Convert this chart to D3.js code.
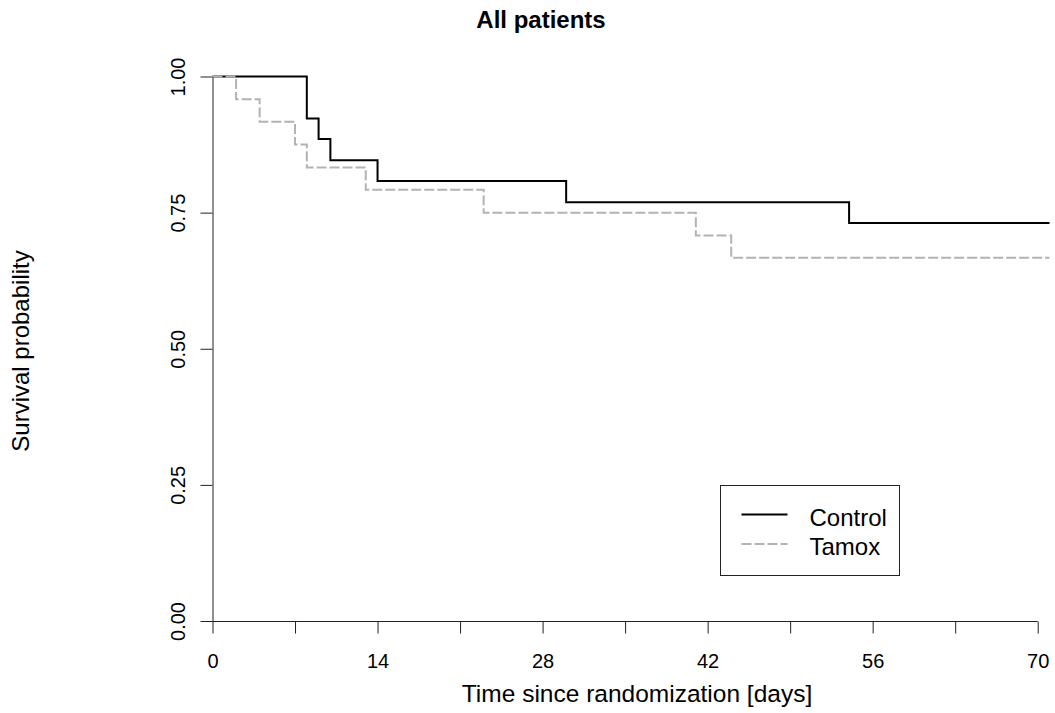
<!DOCTYPE html>
<html>
<head>
<meta charset="utf-8">
<script src="https://cdn.jsdelivr.net/npm/d3@7"></script>
<style>
  body { margin: 0; background: #fff; }
  svg { display: block; font-family: "Liberation Sans", Arial, sans-serif; }
</style>
</head>
<body>
<div class="chart"></div>
<script>
// Kaplan-Meier steps
const controlTimes = [0, 8, 9, 10, 14, 30, 54]
const controlSurv = [1, 0.923, 0.885, 0.846, 0.808, 0.769, 0.731]
const tamoxTimes = [0, 2, 4, 7, 8, 13, 23, 41, 44]
const tamoxSurv = [1, 0.958, 0.917, 0.875, 0.833, 0.792, 0.75, 0.708, 0.667]
const lastTime = 71

const xTicks = [0, 7, 14, 21, 28, 35, 42, 49, 56, 63, 70]
const yTicks = [0, 0.25, 0.5, 0.75, 1]
const groups = ['Control', 'Tamox']

const width = 1055
const height = 713

const svg = d3.select('.chart')
    .append('svg')
    .attr('width', width)
    .attr('height', height)

const xScale = d3.scaleLinear().domain([0, lastTime]).range([212.5, 1049.5])
const yScale = d3.scaleLinear().domain([0, 1]).range([621, 76.5])

// x axis - only every second tick labelled
const xAxis = d3.axisBottom(xScale)
    .tickValues(xTicks)
    .tickSize(12)
    .tickSizeOuter(0)
    .tickFormat(d => d % 14 === 0 ? d : '')

const gx = svg.append('g')
    .attr('transform', 'translate(0,621.5)')
    .call(xAxis)
gx.select('.domain').attr('d', `M${xScale(0)},0H${xScale(70)}`)
gx.selectAll('line, path').attr('stroke', '#222')
gx.selectAll('text')
    .attr('y', 0)
    .attr('dy', 0)
    .attr('transform', 'translate(0,46)')
    .attr('fill', '#000')
    .style('font-size', '20px')

// y axis
const yAxis = d3.axisLeft(yScale)
    .tickValues(yTicks)
    .tickSize(12)
    .tickSizeOuter(0)
    .tickFormat(d3.format('.2f'))

const gy = svg.append('g')
    .attr('transform', 'translate(212.5,0)')
    .call(yAxis)
gy.selectAll('line, path').attr('stroke', '#222')
gy.selectAll('text')
    .attr('x', 0)
    .attr('dy', 0)
    .attr('fill', '#000')
    .attr('text-anchor', 'middle')
    .attr('transform', 'translate(-28,0) rotate(-90)')
    .style('font-size', '20px')

// curves
const line = d3.line()
    .x(d => xScale(d[0]))
    .y(d => yScale(d[1]))
    .curve(d3.curveStepAfter)

const controlPts = controlTimes.map((t, i) => [t, controlSurv[i]])
controlPts.push([lastTime, controlSurv[controlSurv.length - 1]])
const tamoxPts = tamoxTimes.map((t, i) => [t, tamoxSurv[i]])
tamoxPts.push([lastTime, tamoxSurv[tamoxSurv.length - 1]])

svg.append('path')
    .datum(controlPts)
    .attr('d', line)
    .attr('fill', 'none')
    .attr('stroke', '#000')
    .attr('stroke-width', 2)

svg.append('path')
    .datum(tamoxPts)
    .attr('d', line)
    .attr('fill', 'none')
    .attr('stroke', '#b3b3b3')
    .attr('stroke-width', 2)
    .attr('stroke-dasharray', '10,3')

// titles
svg.append('text')
    .attr('x', 541)
    .attr('y', 28)
    .attr('text-anchor', 'middle')
    .style('font-weight', 'bold')
    .style('font-size', '24px')
    .text('All patients')

svg.append('text')
    .attr('x', 637)
    .attr('y', 702)
    .attr('text-anchor', 'middle')
    .style('font-size', '24.5px')
    .text('Time since randomization [days]')

svg.append('text')
    .attr('transform', 'translate(29,351) rotate(-90)')
    .attr('text-anchor', 'middle')
    .style('font-size', '24px')
    .text('Survival probability')

// legend
const legend = svg.append('g').attr('transform', 'translate(720.5,485.5)')
legend.append('rect')
    .attr('width', 179)
    .attr('height', 90)
    .attr('fill', '#fff')
    .attr('stroke', '#222')
    .attr('stroke-width', 1)

legend.selectAll('line.key')
    .data(groups)
    .join('line')
    .attr('class', 'key')
    .attr('x1', 21)
    .attr('x2', 67)
    .attr('y1', (d, i) => 29 + i * 29.5)
    .attr('y2', (d, i) => 29 + i * 29.5)
    .attr('stroke', (d, i) => i === 0 ? '#000' : '#b3b3b3')
    .attr('stroke-width', 2)
    .attr('stroke-dasharray', (d, i) => i === 0 ? null : '10,3')

legend.selectAll('text')
    .data(groups)
    .join('text')
    .attr('x', 89)
    .attr('y', (d, i) => 40 + i * 29.5)
    .style('font-size', '24px')
    .text(d => d)
</script>
</body>
</html>
